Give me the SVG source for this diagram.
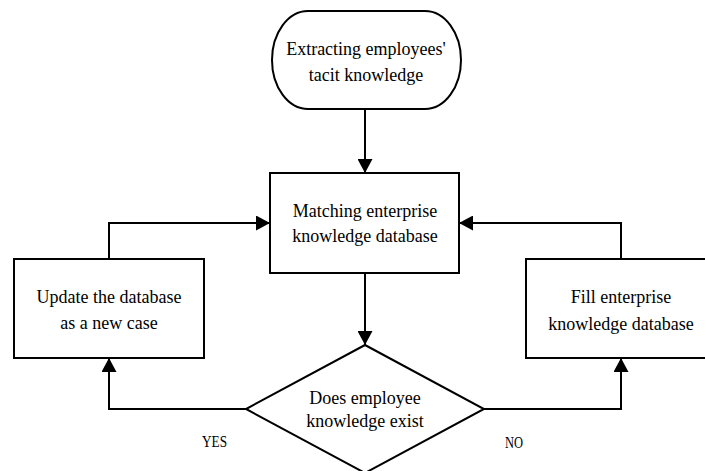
<svg xmlns="http://www.w3.org/2000/svg" width="705" height="471" viewBox="0 0 705 471">
  <style>
    .shape { fill: #ffffff; stroke: #000000; stroke-width: 2; }
    .conn { fill: none; stroke: #000000; stroke-width: 2; }
    .lbl { font-family: "Liberation Serif", "Times New Roman", serif; font-size: 18px; fill: #000000; text-anchor: middle; }
    .yn { font-family: "Liberation Serif", "Times New Roman", serif; font-size: 16px; fill: #000000; }
  </style>
  <defs>
    <marker id="arrow" markerUnits="userSpaceOnUse" markerWidth="14" markerHeight="15" refX="14" refY="7.5" orient="auto">
      <path d="M0,0 L14,7.5 L0,15 Z" fill="#000000"/>
    </marker>
  </defs>
  <rect width="705" height="471" fill="#ffffff"/>

  <g id="connectors">
    <path class="conn" d="M365,109 L365,173" marker-end="url(#arrow)"/>
    <path class="conn" d="M365,273 L365,345" marker-end="url(#arrow)"/>
    <path class="conn" d="M246,409 L109,409 L109,358" marker-end="url(#arrow)"/>
    <path class="conn" d="M484,409 L621,409 L621,358" marker-end="url(#arrow)"/>
    <path class="conn" d="M109,259 L109,223 L270,223" marker-end="url(#arrow)"/>
    <path class="conn" d="M621,259 L621,223 L459,223" marker-end="url(#arrow)"/>
  </g>

  <g id="start">
    <rect class="shape" x="272" y="11" width="189" height="98" rx="36" ry="49"/>
    <text class="lbl" x="366" y="55">Extracting employees'</text>
    <text class="lbl" x="366" y="81">tacit knowledge</text>
  </g>

  <g id="matching">
    <rect class="shape" x="270" y="173" width="189" height="100"/>
    <text class="lbl" x="365" y="217">Matching enterprise</text>
    <text class="lbl" x="365" y="242">knowledge database</text>
  </g>

  <g id="update">
    <rect class="shape" x="14" y="259" width="190" height="99"/>
    <text class="lbl" x="109" y="303">Update the database</text>
    <text class="lbl" x="109" y="329">as a new case</text>
  </g>

  <g id="fill">
    <rect class="shape" x="526" y="259" width="190" height="99"/>
    <text class="lbl" x="621" y="303">Fill enterprise</text>
    <text class="lbl" x="621" y="330">knowledge database</text>
  </g>

  <g id="decision">
    <polygon class="shape" points="365,345 484,409 365,473 246,409"/>
    <text class="lbl" x="365" y="404">Does employee</text>
    <text class="lbl" x="365" y="427">knowledge exist</text>
  </g>

  <g id="labels">
    <text class="yn" x="202" y="447" textLength="25" lengthAdjust="spacingAndGlyphs">YES</text>
    <text class="yn" x="505" y="448" textLength="18" lengthAdjust="spacingAndGlyphs">NO</text>
  </g>
</svg>
